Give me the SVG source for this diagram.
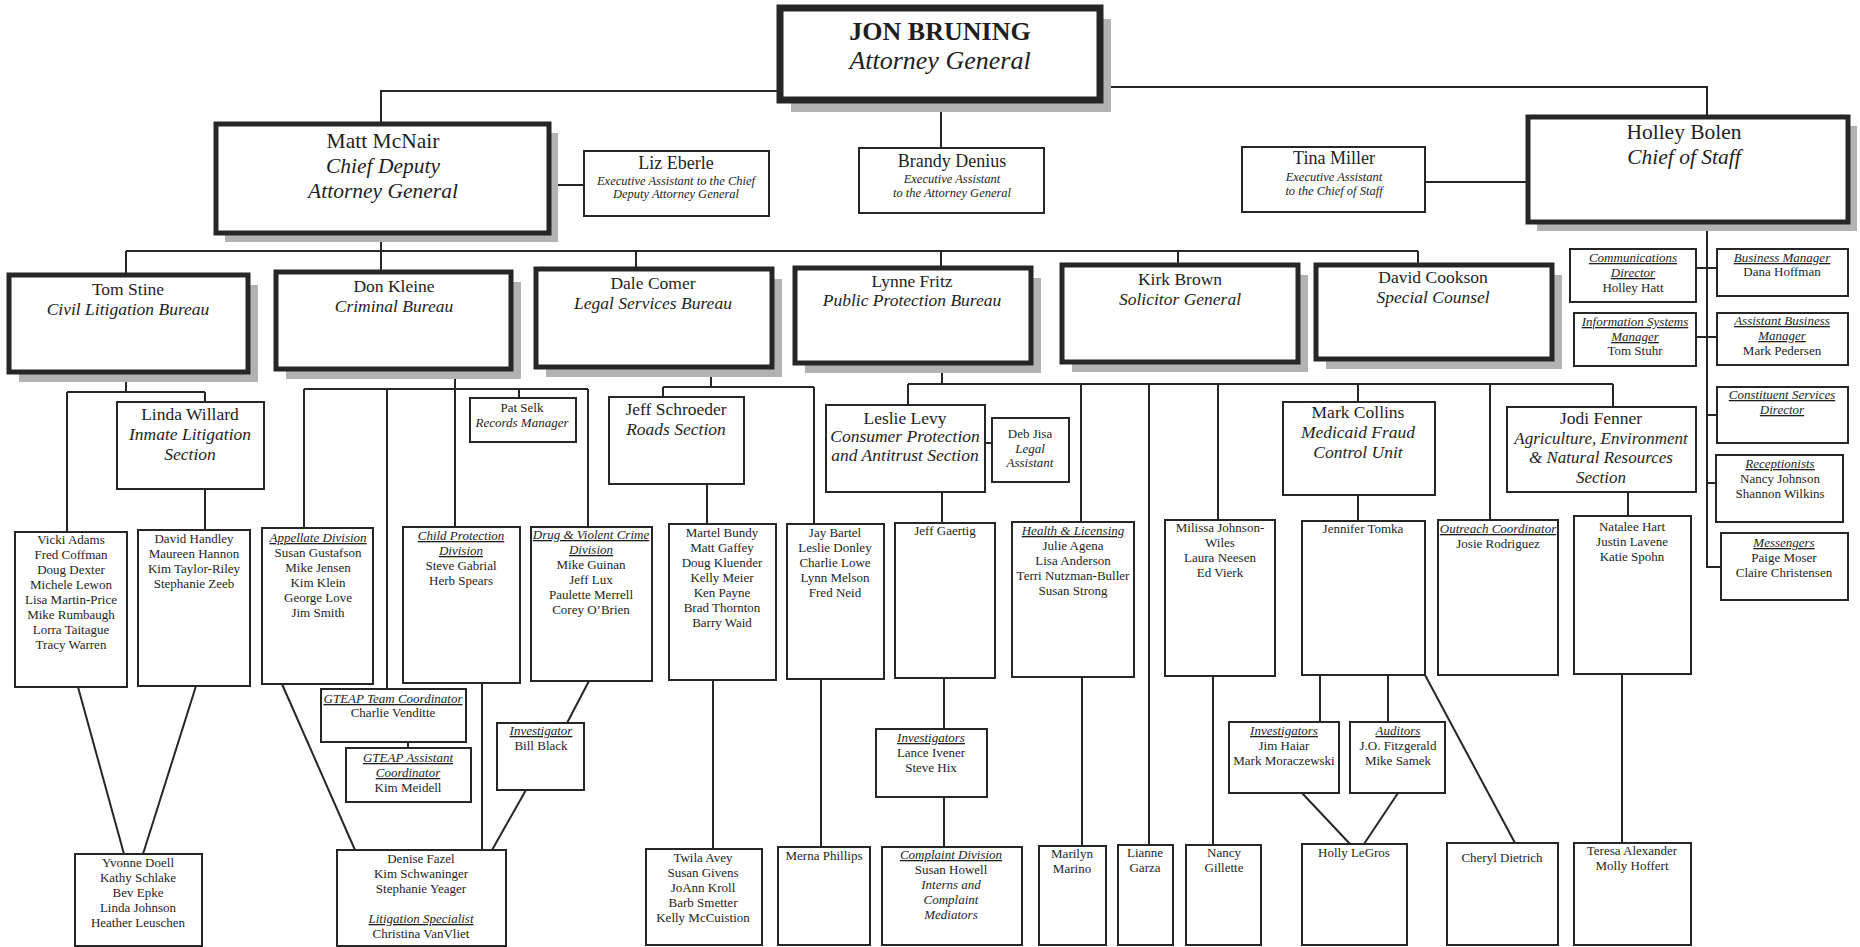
<svg xmlns="http://www.w3.org/2000/svg" width="1860" height="947" viewBox="0 0 1860 947">
<style>
.bg{fill:#ffffff}
.b{fill:#ffffff;stroke:#262626;stroke-width:2}
.tb{fill:#ffffff;stroke:#262626;stroke-width:5}
.xb{fill:#ffffff;stroke:#262626;stroke-width:7}
.sh{fill:#b2b2b2}
.ln{stroke:#262626;stroke-width:2;fill:none}
text{font-family:"Liberation Serif","Times New Roman",serif;fill:#1e1e1e;text-anchor:middle}
.n{font-size:13px}
.s{font-size:12.5px;font-style:italic}
.h{font-size:17.5px}
.i{font-style:italic}
.u{text-decoration:underline}
.big{font-size:26px}
.m{font-size:21.5px}
.a{font-size:18px}
</style>
<rect class="bg" x="0" y="0" width="1860" height="947"/>

<g id="connectors">
<!-- top -->
<polyline class="ln" points="780,91 381,91 381,124"/>
<polyline class="ln" points="1100,87 1707,87 1707,117"/>
<line class="ln" x1="941" y1="100" x2="941" y2="148"/>
<line class="ln" x1="549" y1="185" x2="584" y2="185"/>
<line class="ln" x1="1425" y1="182" x2="1528" y2="182"/>
<!-- bureau bus -->
<line class="ln" x1="381" y1="233" x2="381" y2="272"/>
<line class="ln" x1="126" y1="251" x2="1418" y2="251"/>
<line class="ln" x1="126" y1="251" x2="126" y2="275"/>
<line class="ln" x1="636" y1="251" x2="636" y2="269"/>
<line class="ln" x1="941" y1="251" x2="941" y2="268"/>
<line class="ln" x1="1178" y1="251" x2="1178" y2="265"/>
<line class="ln" x1="1418" y1="251" x2="1418" y2="265"/>
<!-- chief of staff column -->
<polyline class="ln" points="1707,222 1707,567 1721,567"/>
<line class="ln" x1="1696" y1="268" x2="1717" y2="268"/>
<line class="ln" x1="1696" y1="337" x2="1717" y2="337"/>
<line class="ln" x1="1707" y1="415" x2="1717" y2="415"/>
<line class="ln" x1="1707" y1="483" x2="1716" y2="483"/>
<!-- civil litigation -->
<line class="ln" x1="126" y1="372" x2="126" y2="392"/>
<line class="ln" x1="67" y1="392" x2="205" y2="392"/>
<line class="ln" x1="67" y1="392" x2="67" y2="532"/>
<line class="ln" x1="205" y1="392" x2="205" y2="402"/>
<line class="ln" x1="205" y1="489" x2="205" y2="530"/>
<line class="ln" x1="78" y1="687" x2="124" y2="854"/>
<line class="ln" x1="196" y1="686" x2="143" y2="854"/>
<!-- criminal -->
<line class="ln" x1="455" y1="369" x2="455" y2="527"/>
<line class="ln" x1="304" y1="389" x2="588" y2="389"/>
<line class="ln" x1="304" y1="389" x2="304" y2="528"/>
<line class="ln" x1="387" y1="389" x2="387" y2="689"/>
<line class="ln" x1="519" y1="389" x2="519" y2="398"/>
<line class="ln" x1="588" y1="389" x2="588" y2="527"/>
<line class="ln" x1="408" y1="742" x2="408" y2="748"/>
<line class="ln" x1="589" y1="681" x2="567" y2="723"/>
<line class="ln" x1="282" y1="684" x2="355" y2="850"/>
<line class="ln" x1="482" y1="683" x2="482" y2="850"/>
<line class="ln" x1="526" y1="790" x2="492" y2="850"/>
<!-- legal services -->
<line class="ln" x1="711" y1="367" x2="711" y2="387"/>
<line class="ln" x1="663" y1="387" x2="814" y2="387"/>
<line class="ln" x1="663" y1="387" x2="663" y2="397"/>
<line class="ln" x1="814" y1="387" x2="814" y2="524"/>
<line class="ln" x1="707" y1="484" x2="707" y2="524"/>
<line class="ln" x1="713" y1="680" x2="713" y2="849"/>
<line class="ln" x1="821" y1="679" x2="821" y2="847"/>
<!-- public protection -->
<line class="ln" x1="942" y1="363" x2="942" y2="384"/>
<line class="ln" x1="908" y1="384" x2="1613" y2="384"/>
<line class="ln" x1="908" y1="384" x2="908" y2="405"/>
<line class="ln" x1="985" y1="443" x2="992" y2="443"/>
<line class="ln" x1="942" y1="492" x2="942" y2="523"/>
<line class="ln" x1="944" y1="678" x2="944" y2="729"/>
<line class="ln" x1="944" y1="797" x2="944" y2="847"/>
<line class="ln" x1="1081" y1="384" x2="1081" y2="522"/>
<line class="ln" x1="1082" y1="677" x2="1082" y2="846"/>
<line class="ln" x1="1149" y1="384" x2="1149" y2="845"/>
<line class="ln" x1="1218" y1="384" x2="1218" y2="520"/>
<line class="ln" x1="1213" y1="676" x2="1213" y2="845"/>
<line class="ln" x1="1358" y1="384" x2="1358" y2="402"/>
<line class="ln" x1="1358" y1="495" x2="1358" y2="521"/>
<line class="ln" x1="1320" y1="675" x2="1320" y2="722"/>
<line class="ln" x1="1388" y1="675" x2="1388" y2="722"/>
<line class="ln" x1="1425" y1="675" x2="1515" y2="843"/>
<line class="ln" x1="1302" y1="793" x2="1350" y2="844"/>
<line class="ln" x1="1398" y1="793" x2="1364" y2="844"/>
<line class="ln" x1="1490" y1="384" x2="1490" y2="520"/>
<line class="ln" x1="1613" y1="384" x2="1613" y2="407"/>
<line class="ln" x1="1628" y1="492" x2="1628" y2="516"/>
<line class="ln" x1="1622" y1="674" x2="1622" y2="843"/>
</g>

<g id="jon"><rect class="sh" x="791" y="19" width="320" height="93"/><rect class="xb" x="780" y="8" width="320" height="92"/>
<text class="big" x="940" y="40" font-weight="bold">JON BRUNING</text><text class="big i" x="940" y="69">Attorney General</text></g>

<g id="matt"><rect class="sh" x="225" y="133" width="333" height="109"/><rect class="tb" x="216" y="124" width="333" height="109"/>
<text class="m" x="383" y="148">Matt McNair</text><text class="m i" x="383" y="173">Chief Deputy</text><text class="m i" x="383" y="198">Attorney General</text></g>

<g id="liz"><rect class="b" x="584" y="151" width="185" height="65"/>
<text class="a" x="676" y="169">Liz Eberle</text><text class="s" x="676" y="185">Executive Assistant to the Chief</text><text class="s" x="676" y="198">Deputy Attorney General</text></g>

<g id="brandy"><rect class="b" x="859" y="148" width="185" height="65"/>
<text class="a" x="952" y="167">Brandy Denius</text><text class="s" x="952" y="183">Executive Assistant</text><text class="s" x="952" y="197">to the Attorney General</text></g>

<g id="tina"><rect class="b" x="1242" y="147" width="183" height="65"/>
<text class="a" x="1334" y="164">Tina Miller</text><text class="s" x="1334" y="181">Executive Assistant</text><text class="s" x="1334" y="195">to the Chief of Staff</text></g>

<g id="holley"><rect class="sh" x="1537" y="126" width="320" height="105"/><rect class="tb" x="1528" y="117" width="320" height="105"/>
<text class="m" x="1684" y="139">Holley Bolen</text><text class="m i" x="1684" y="164">Chief of Staff</text></g>

<g id="tom"><rect class="sh" x="19" y="285" width="239" height="97"/><rect class="tb" x="9" y="275" width="239" height="97"/>
<text class="h" x="128" y="295">Tom Stine</text><text class="h i" x="128" y="315">Civil Litigation Bureau</text></g>
<g id="don"><rect class="sh" x="286" y="282" width="235" height="97"/><rect class="tb" x="276" y="272" width="235" height="97"/>
<text class="h" x="394" y="292">Don Kleine</text><text class="h i" x="394" y="312">Criminal Bureau</text></g>
<g id="dale"><rect class="sh" x="546" y="279" width="236" height="98"/><rect class="tb" x="536" y="269" width="236" height="98"/>
<text class="h" x="653" y="289">Dale Comer</text><text class="h i" x="653" y="309">Legal Services Bureau</text></g>
<g id="lynne"><rect class="sh" x="805" y="278" width="236" height="95"/><rect class="tb" x="795" y="268" width="236" height="95"/>
<text class="h" x="912" y="287">Lynne Fritz</text><text class="h i" x="912" y="306">Public Protection Bureau</text></g>
<g id="kirk"><rect class="sh" x="1072" y="275" width="236" height="97"/><rect class="tb" x="1062" y="265" width="236" height="97"/>
<text class="h" x="1180" y="285">Kirk Brown</text><text class="h i" x="1180" y="305">Solicitor General</text></g>
<g id="david"><rect class="sh" x="1326" y="275" width="236" height="94"/><rect class="tb" x="1316" y="265" width="236" height="94"/>
<text class="h" x="1433" y="283">David Cookson</text><text class="h i" x="1433" y="303">Special Counsel</text></g>

<g id="comm"><rect class="b" x="1570" y="249" width="126" height="53"/>
<text class="n i u" x="1633" y="262">Communications</text><text class="n i u" x="1633" y="277">Director</text><text class="n" x="1633" y="292">Holley Hatt</text></g>
<g id="bizmgr"><rect class="b" x="1717" y="249" width="131" height="47"/>
<text class="n i u" x="1782" y="262">Business Manager</text><text class="n" x="1782" y="276">Dana Hoffman</text></g>
<g id="infosys"><rect class="b" x="1574" y="313" width="122" height="53"/>
<text class="n i u" x="1635" y="326">Information Systems</text><text class="n i u" x="1635" y="341">Manager</text><text class="n" x="1635" y="355">Tom Stuhr</text></g>
<g id="asstbiz"><rect class="b" x="1717" y="313" width="131" height="52"/>
<text class="n i u" x="1782" y="325">Assistant Business</text><text class="n i u" x="1782" y="340">Manager</text><text class="n" x="1782" y="355">Mark Pedersen</text></g>
<g id="constituent"><rect class="b" x="1717" y="387" width="131" height="56"/>
<text class="n i u" x="1782" y="399">Constituent Services</text><text class="n i u" x="1782" y="414">Director</text></g>
<g id="receptionists"><rect class="b" x="1716" y="455" width="127" height="67"/>
<text class="n i u" x="1780" y="468">Receptionists</text><text class="n" x="1780" y="483">Nancy Johnson</text><text class="n" x="1780" y="498">Shannon Wilkins</text></g>
<g id="messengers"><rect class="b" x="1721" y="533" width="127" height="67"/>
<text class="n i u" x="1784" y="547">Messengers</text><text class="n" x="1784" y="562">Paige Moser</text><text class="n" x="1784" y="577">Claire Christensen</text></g>

<g id="linda"><rect class="b" x="117" y="402" width="147" height="87"/>
<text class="h" x="190" y="420">Linda Willard</text><text class="h i" x="190" y="440">Inmate Litigation</text><text class="h i" x="190" y="460">Section</text></g>
<g id="patselk"><rect class="b" x="470" y="398" width="106" height="44"/>
<text class="n" x="522" y="412">Pat Selk</text><text class="n i" x="522" y="427">Records Manager</text></g>
<g id="jeffschroeder"><rect class="b" x="609" y="397" width="135" height="87"/>
<text class="h" x="676" y="415">Jeff Schroeder</text><text class="h i" x="676" y="435">Roads Section</text></g>
<g id="leslie"><rect class="b" x="826" y="405" width="159" height="87"/>
<text class="h" x="905" y="424">Leslie Levy</text><text class="h i" x="905" y="442">Consumer Protection</text><text class="h i" x="905" y="461">and Antitrust Section</text></g>
<g id="debjisa"><rect class="b" x="992" y="418" width="77" height="64"/>
<text class="n" x="1030" y="438">Deb Jisa</text><text class="n i" x="1030" y="453">Legal</text><text class="n i" x="1030" y="467">Assistant</text></g>
<g id="markcollins"><rect class="b" x="1283" y="402" width="152" height="93"/>
<text class="h" x="1358" y="418">Mark Collins</text><text class="h i" x="1358" y="438">Medicaid Fraud</text><text class="h i" x="1358" y="458">Control Unit</text></g>
<g id="jodi"><rect class="b" x="1507" y="407" width="189" height="85"/>
<text class="h" x="1601" y="424">Jodi Fenner</text><text class="i" font-size="17" x="1601" y="444">Agriculture, Environment</text><text class="i" font-size="17" x="1601" y="463">&amp; Natural Resources</text><text class="i" font-size="17" x="1601" y="483">Section</text></g>

<g id="vicki"><rect class="b" x="15" y="532" width="112" height="155"/>
<text class="n" x="71" y="544">Vicki Adams</text><text class="n" x="71" y="559">Fred Coffman</text><text class="n" x="71" y="574">Doug Dexter</text><text class="n" x="71" y="589">Michele Lewon</text><text class="n" x="71" y="604">Lisa Martin-Price</text><text class="n" x="71" y="619">Mike Rumbaugh</text><text class="n" x="71" y="634">Lorra Taitague</text><text class="n" x="71" y="649">Tracy Warren</text></g>
<g id="davidhandley"><rect class="b" x="138" y="530" width="112" height="156"/>
<text class="n" x="194" y="543">David Handley</text><text class="n" x="194" y="558">Maureen Hannon</text><text class="n" x="194" y="573">Kim Taylor-Riley</text><text class="n" x="194" y="588">Stephanie Zeeb</text></g>
<g id="appellate"><rect class="b" x="262" y="528" width="111" height="156"/>
<text class="n i u" x="318" y="542">Appellate Division</text><text class="n" x="318" y="557">Susan Gustafson</text><text class="n" x="318" y="572">Mike Jensen</text><text class="n" x="318" y="587">Kim Klein</text><text class="n" x="318" y="602">George Love</text><text class="n" x="318" y="617">Jim Smith</text></g>
<g id="childprotection"><rect class="b" x="403" y="527" width="117" height="156"/>
<text class="n i u" x="461" y="540">Child Protection</text><text class="n i u" x="461" y="555">Division</text><text class="n" x="461" y="570">Steve Gabrial</text><text class="n" x="461" y="585">Herb Spears</text></g>
<g id="drug"><rect class="b" x="531" y="527" width="121" height="154"/>
<text class="n i u" x="591" y="539">Drug &amp; Violent Crime</text><text class="n i u" x="591" y="554">Division</text><text class="n" x="591" y="569">Mike Guinan</text><text class="n" x="591" y="584">Jeff Lux</text><text class="n" x="591" y="599">Paulette Merrell</text><text class="n" x="591" y="614">Corey O’Brien</text></g>
<g id="martel"><rect class="b" x="669" y="524" width="107" height="156"/>
<text class="n" x="722" y="537">Martel Bundy</text><text class="n" x="722" y="552">Matt Gaffey</text><text class="n" x="722" y="567">Doug Kluender</text><text class="n" x="722" y="582">Kelly Meier</text><text class="n" x="722" y="597">Ken Payne</text><text class="n" x="722" y="612">Brad Thornton</text><text class="n" x="722" y="627">Barry Waid</text></g>
<g id="jaybartel"><rect class="b" x="787" y="524" width="97" height="155"/>
<text class="n" x="835" y="537">Jay Bartel</text><text class="n" x="835" y="552">Leslie Donley</text><text class="n" x="835" y="567">Charlie Lowe</text><text class="n" x="835" y="582">Lynn Melson</text><text class="n" x="835" y="597">Fred Neid</text></g>
<g id="gaertig"><rect class="b" x="895" y="523" width="100" height="155"/>
<text class="n" x="945" y="535">Jeff Gaertig</text></g>
<g id="health"><rect class="b" x="1012" y="522" width="122" height="155"/>
<text class="n i u" x="1073" y="535">Health &amp; Licensing</text><text class="n" x="1073" y="550">Julie Agena</text><text class="n" x="1073" y="565">Lisa Anderson</text><text class="n" x="1073" y="580">Terri Nutzman-Buller</text><text class="n" x="1073" y="595">Susan Strong</text></g>
<g id="milissa"><rect class="b" x="1165" y="520" width="110" height="156"/>
<text class="n" x="1220" y="532">Milissa Johnson-</text><text class="n" x="1220" y="547">Wiles</text><text class="n" x="1220" y="562">Laura Neesen</text><text class="n" x="1220" y="577">Ed Vierk</text></g>
<g id="jennifer"><rect class="b" x="1302" y="521" width="123" height="154"/>
<text class="n" x="1363" y="533">Jennifer Tomka</text></g>
<g id="outreach"><rect class="b" x="1438" y="520" width="120" height="155"/>
<text class="n i u" x="1498" y="533">Outreach Coordinator</text><text class="n" x="1498" y="548">Josie Rodriguez</text></g>
<g id="natalee"><rect class="b" x="1574" y="516" width="117" height="158"/>
<text class="n" x="1632" y="531">Natalee Hart</text><text class="n" x="1632" y="546">Justin Lavene</text><text class="n" x="1632" y="561">Katie Spohn</text></g>

<g id="gteap"><rect class="b" x="321" y="689" width="145" height="53"/>
<text class="n i u" x="393" y="703">GTEAP Team Coordinator</text><text class="n" x="393" y="717">Charlie Venditte</text></g>
<g id="gteapasst"><rect class="b" x="346" y="748" width="125" height="54"/>
<text class="n i u" x="408" y="762">GTEAP Assistant</text><text class="n i u" x="408" y="777">Coordinator</text><text class="n" x="408" y="792">Kim Meidell</text></g>
<g id="investigator"><rect class="b" x="497" y="723" width="87" height="67"/>
<text class="n i u" x="541" y="735">Investigator</text><text class="n" x="541" y="750">Bill Black</text></g>
<g id="investigators1"><rect class="b" x="876" y="729" width="111" height="68"/>
<text class="n i u" x="931" y="742">Investigators</text><text class="n" x="931" y="757">Lance Ivener</text><text class="n" x="931" y="772">Steve Hix</text></g>
<g id="investigators2"><rect class="b" x="1229" y="722" width="110" height="71"/>
<text class="n i u" x="1284" y="735">Investigators</text><text class="n" x="1284" y="750">Jim Haiar</text><text class="n" x="1284" y="765">Mark Moraczewski</text></g>
<g id="auditors"><rect class="b" x="1350" y="722" width="95" height="71"/>
<text class="n i u" x="1398" y="735">Auditors</text><text class="n" x="1398" y="750">J.O. Fitzgerald</text><text class="n" x="1398" y="765">Mike Samek</text></g>

<g id="yvonne"><rect class="b" x="75" y="854" width="127" height="92"/>
<text class="n" x="138" y="867">Yvonne Doell</text><text class="n" x="138" y="882">Kathy Schlake</text><text class="n" x="138" y="897">Bev Epke</text><text class="n" x="138" y="912">Linda Johnson</text><text class="n" x="138" y="927">Heather Leuschen</text></g>
<g id="denise"><rect class="b" x="337" y="850" width="169" height="96"/>
<text class="n" x="421" y="863">Denise Fazel</text><text class="n" x="421" y="878">Kim Schwaninger</text><text class="n" x="421" y="893">Stephanie Yeager</text><text class="n i u" x="421" y="923">Litigation Specialist</text><text class="n" x="421" y="938">Christina VanVliet</text></g>
<g id="twila"><rect class="b" x="646" y="849" width="116" height="96"/>
<text class="n" x="703" y="862">Twila Avey</text><text class="n" x="703" y="877">Susan Givens</text><text class="n" x="703" y="892">JoAnn Kroll</text><text class="n" x="703" y="907">Barb Smetter</text><text class="n" x="703" y="922">Kelly McCuistion</text></g>
<g id="merna"><rect class="b" x="778" y="847" width="92" height="98"/>
<text class="n" x="824" y="860">Merna Phillips</text></g>
<g id="complaint"><rect class="b" x="882" y="847" width="140" height="98"/>
<text class="n i u" x="951" y="859">Complaint Division</text><text class="n" x="951" y="874">Susan Howell</text><text class="n i" x="951" y="889">Interns and</text><text class="n i" x="951" y="904">Complaint</text><text class="n i" x="951" y="919">Mediators</text></g>
<g id="marilyn"><rect class="b" x="1039" y="846" width="67" height="99"/>
<text class="n" x="1072" y="858">Marilyn</text><text class="n" x="1072" y="873">Marino</text></g>
<g id="lianne"><rect class="b" x="1118" y="845" width="55" height="100"/>
<text class="n" x="1145" y="857">Lianne</text><text class="n" x="1145" y="872">Garza</text></g>
<g id="nancy"><rect class="b" x="1186" y="845" width="75" height="100"/>
<text class="n" x="1224" y="857">Nancy</text><text class="n" x="1224" y="872">Gillette</text></g>
<g id="holly"><rect class="b" x="1302" y="844" width="105" height="101"/>
<text class="n" x="1354" y="857">Holly LeGros</text></g>
<g id="cheryl"><rect class="b" x="1447" y="843" width="111" height="102"/>
<text class="n" x="1502" y="862">Cheryl Dietrich</text></g>
<g id="teresa"><rect class="b" x="1574" y="843" width="117" height="102"/>
<text class="n" x="1632" y="855">Teresa Alexander</text><text class="n" x="1632" y="870">Molly Hoffert</text></g>
</svg>
